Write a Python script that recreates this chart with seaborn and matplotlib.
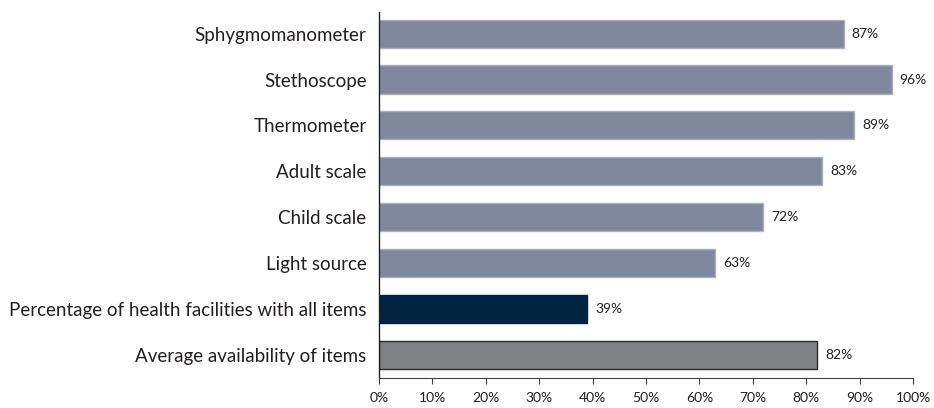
import matplotlib
matplotlib.use("Agg")
import matplotlib.pyplot as plt
from matplotlib.ticker import FuncFormatter, MultipleLocator
import seaborn as sns
import pandas as pd

# Basic equipment availability in health facilities
items = [
    "Sphygmomanometer",
    "Stethoscope",
    "Thermometer",
    "Adult scale",
    "Child scale",
    "Light source",
    "Percentage of health facilities with all items",
    "Average availability of items",
]
availability = [87, 96, 89, 83, 72, 63, 39, 82]
bar_colors = ["#7f889c"] * 6 + ["#00233f", "#808184"]
edge_colors = ["#a9b0bf"] * 6 + ["#00233f", "#2b2b2b"]

sns.set_theme(style="white")
plt.rcParams["font.family"] = ["Lato", "DejaVu Sans"]

df = pd.DataFrame({"item": items, "value": availability})

fig = plt.figure(figsize=(9.34, 4.08), dpi=100)
ax = fig.add_axes([0.4058, 0.0735, 0.5717, 0.8971])

sns.barplot(
    data=df, x="value", y="item", hue="item", order=items, hue_order=items,
    palette=bar_colors, orient="h", width=0.61, legend=False, ax=ax,
    saturation=1,
)
for patch, ec in zip(ax.patches, edge_colors):
    patch.set_edgecolor(ec)
    patch.set_linewidth(1.0)

for i, v in enumerate(availability):
    ax.text(v + 1.5, i, f"{v}%", va="center", ha="left", fontsize=10,
            color="#231f20")

ax.set_xlim(0, 100)
ax.set_ylim(7.5, -0.47)
ax.xaxis.set_major_locator(MultipleLocator(10))
ax.xaxis.set_major_formatter(FuncFormatter(lambda x, _: f"{x:.0f}%"))
ax.set_xlabel("")
ax.set_ylabel("")
ax.tick_params(axis="x", which="major", bottom=True, length=4, width=0.8,
               color="#404040", labelsize=10, labelcolor="#231f20", pad=6)
ax.tick_params(axis="y", left=False, length=0, labelsize=13.5,
               labelcolor="#231f20", pad=9)

for side in ["top", "right"]:
    ax.spines[side].set_visible(False)
ax.spines["left"].set_color("#231f20")
ax.spines["left"].set_linewidth(1.0)
ax.spines["bottom"].set_color("#404040")
ax.spines["bottom"].set_linewidth(0.8)

fig.savefig("out.png", dpi=100)
